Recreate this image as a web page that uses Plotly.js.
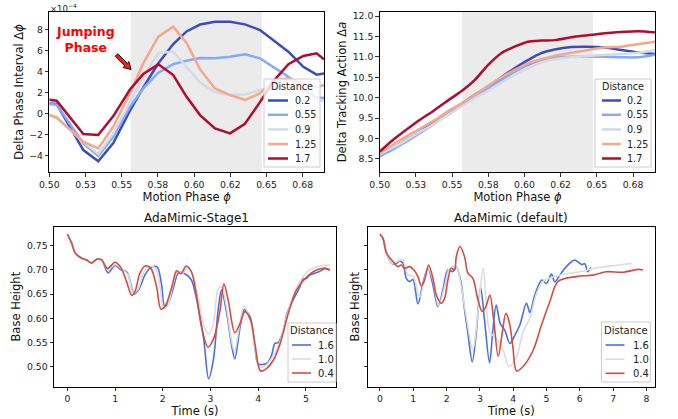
<!DOCTYPE html>
<html>
<head>
<meta charset="utf-8">
<script src="https://cdn.plot.ly/plotly-3.0.1.min.js"></script>
<style>html,body{margin:0;padding:0;background:#fff;}#chart{width:678px;height:419px;}</style>
</head>
<body>
<div id="chart"></div>
<script>
// ---------- Top-left: Delta Phase Interval (x1e-4) ----------
const phaseX = [0.5, 0.5051, 0.5235, 0.5338, 0.5442, 0.5557, 0.5649, 0.5753, 0.5856, 0.5948, 0.6041, 0.6144, 0.6248, 0.6351, 0.6455, 0.6547, 0.6651, 0.6754, 0.6846, 0.6897];
const dphi_02  = [0.98, 0.92, -3.44, -4.5, -2.78, 0.3, 2.5, 4.78, 6.6, 7.8, 8.45, 8.72, 8.72, 8.47, 7.93, 6.98, 5.88, 4.45, 3.7, 3.82];
const dphi_055 = [0.92, 0.85, -2.8, -4.0, -2.18, 0.66, 2.4, 3.89, 4.7, 5.02, 5.27, 5.25, 5.4, 5.63, 5.25, 4.45, 3.5, 2.34, 1.52, 1.52];
const dphi_09  = [-0.15, -0.44, -2.65, -3.82, -1.86, 1.14, 3.5, 5.75, 5.87, 4.45, 2.97, 2.03, 1.77, 1.83, 2.24, 2.4, 2.56, 2.08, 1.14, 1.3];
const dphi_125 = [-0.1, -0.35, -2.65, -3.28, -1.23, 1.93, 4.77, 7.3, 8.25, 6.7, 4.2, 2.4, 1.77, 1.3, 1.93, 3.19, 3.35, 2.87, 2.5, 2.72];
const dphi_17  = [1.33, 1.23, -1.93, -2.02, -0.22, 2.3, 3.76, 4.68, 3.67, 1.6, -0.13, -1.39, -1.86, -0.95, 1.1, 3.07, 4.7, 5.48, 5.72, 5.15];

// ---------- Top-right: Delta Tracking Action ----------
const actX = [0.5, 0.5104, 0.5242, 0.538, 0.5495, 0.5569, 0.5656, 0.5748, 0.584, 0.5932, 0.6024, 0.6116, 0.6209, 0.6324, 0.6439, 0.6554, 0.6669, 0.6784, 0.6904];
const da_02  = [8.57, 8.80, 9.09, 9.41, 9.70, 9.86, 10.07, 10.27, 10.50, 10.72, 10.92, 11.09, 11.18, 11.24, 11.25, 11.23, 11.17, 11.11, 11.07];
const da_055 = [8.57, 8.76, 9.05, 9.37, 9.66, 9.82, 10.03, 10.23, 10.43, 10.64, 10.80, 10.92, 10.98, 11.00, 11.00, 11.00, 10.99, 10.99, 11.05];
const da_09  = [8.62, 8.80, 9.09, 9.37, 9.63, 9.80, 9.99, 10.17, 10.37, 10.56, 10.72, 10.86, 10.94, 10.99, 11.02, 11.05, 11.07, 11.10, 11.17];
const da_125 = [8.64, 8.88, 9.17, 9.45, 9.72, 9.86, 10.07, 10.29, 10.50, 10.68, 10.84, 10.94, 11.02, 11.10, 11.17, 11.23, 11.25, 11.31, 11.37];
const da_17  = [8.68, 9.00, 9.37, 9.70, 9.99, 10.17, 10.43, 10.80, 11.09, 11.25, 11.37, 11.40, 11.41, 11.48, 11.53, 11.58, 11.61, 11.63, 11.60];

const phaseLabels = ['0.2', '0.55', '0.9', '1.25', '1.7'];
const phaseColors = ['#3b4cc0', '#86a9fc', '#d2dbe8', '#f5a787', '#b40a30'];

// ---------- Bottom-left: AdaMimic-Stage1 base height ----------
const s1_t_16 = [0,0.09,0.16,0.3,0.405,0.51,0.615,0.72,0.85,1.0,1.12,1.25,1.4,1.5,1.63,1.75,1.88,1.97,2.04,2.12,2.22,2.33,2.47,2.6,2.74,2.86,2.96,3.06,3.16,3.23,3.34,3.45,3.51,3.62,3.71,3.83,3.93,4.0,4.18,4.28,4.35,4.42,4.53,4.6,4.73,4.87,4.93,5.01,5.08,5.19,5.29,5.4,5.5];
const s1_h_16 = [0.7734,0.755,0.7355,0.724,0.7204,0.714,0.722,0.7204,0.694,0.709,0.700,0.695,0.650,0.66,0.69,0.705,0.706,0.672,0.624,0.632,0.662,0.694,0.6915,0.679,0.624,0.555,0.475,0.514,0.617,0.658,0.610,0.54,0.516,0.582,0.618,0.603,0.541,0.506,0.507,0.524,0.548,0.5496,0.5758,0.609,0.638,0.664,0.68,0.682,0.689,0.693,0.697,0.703,0.6997];
const s1_t_10 = [0,0.09,0.16,0.3,0.405,0.51,0.615,0.72,0.85,1.0,1.15,1.27,1.38,1.48,1.6,1.72,1.85,1.95,2.02,2.1,2.2,2.3,2.42,2.52,2.62,2.75,2.86,2.96,3.06,3.16,3.23,3.34,3.43,3.5,3.6,3.7,3.82,3.93,4.02,4.15,4.3,4.45,4.6,4.75,4.9,5.05,5.2,5.35,5.5];
const s1_h_10 = [0.7734,0.755,0.7355,0.724,0.7204,0.714,0.722,0.7204,0.70,0.711,0.70,0.690,0.652,0.66,0.695,0.707,0.703,0.66,0.62,0.625,0.664,0.695,0.693,0.705,0.69,0.64,0.585,0.567,0.59,0.66,0.665,0.62,0.56,0.531,0.58,0.625,0.60,0.54,0.50,0.502,0.52,0.55,0.605,0.65,0.68,0.698,0.706,0.709,0.709];
const s1_t_04 = [0,0.09,0.16,0.3,0.405,0.51,0.615,0.72,0.84,1.0,1.12,1.24,1.35,1.42,1.52,1.63,1.75,1.87,1.96,2.06,2.19,2.29,2.38,2.49,2.6,2.71,2.81,2.95,3.08,3.2,3.28,3.37,3.51,3.62,3.72,3.84,3.93,4.05,4.18,4.32,4.46,4.63,4.8,5.01,5.22,5.4,5.5];
const s1_h_04 = [0.7734,0.755,0.7355,0.724,0.7204,0.714,0.722,0.7204,0.703,0.7156,0.705,0.6756,0.647,0.656,0.693,0.708,0.703,0.665,0.619,0.627,0.665,0.698,0.692,0.708,0.696,0.6446,0.5826,0.540,0.562,0.617,0.671,0.638,0.570,0.5895,0.6136,0.5965,0.548,0.491,0.4966,0.5138,0.548,0.610,0.658,0.6846,0.6997,0.703,0.6997];

// ---------- Bottom-right: AdaMimic (default) base height ----------
const df_t_16 = [0,0.09,0.19,0.34,0.49,0.59,0.69,0.79,0.89,0.99,1.14,1.29,1.44,1.59,1.74,1.89,2.04,2.19,2.29,2.42,2.54,2.64,2.77,2.89,3.02,3.14,3.29,3.39,3.49,3.61,3.75,3.9,4.05,4.2,4.4,4.5,4.65,4.86,5.0,5.15,5.25,5.4,5.6,5.85,6.06,6.15,6.24,6.33];
const df_h_16 = [0.7734,0.765,0.7355,0.7135,0.7135,0.7183,0.7135,0.6825,0.6756,0.680,0.6295,0.6722,0.703,0.6687,0.624,0.6584,0.6997,0.6963,0.7066,0.679,0.617,0.5689,0.510,0.5689,0.664,0.596,0.5083,0.5758,0.6274,0.5895,0.575,0.548,0.565,0.586,0.631,0.612,0.648,0.679,0.672,0.691,0.675,0.689,0.707,0.720,0.711,0.7125,0.696,0.705];
const df_t_10 = [0,0.09,0.19,0.34,0.49,0.59,0.69,0.84,0.99,1.19,1.44,1.59,1.76,1.94,2.09,2.29,2.44,2.59,2.79,2.94,3.1,3.3,3.5,3.7,3.87,4.1,4.3,4.5,4.7,4.9,5.4,6.0,6.6,7.1,7.56];
const df_h_10 = [0.7734,0.765,0.7355,0.7135,0.716,0.720,0.720,0.6894,0.6873,0.6433,0.703,0.679,0.6253,0.6653,0.703,0.7066,0.6653,0.6033,0.5344,0.610,0.703,0.572,0.558,0.535,0.50,0.521,0.572,0.600,0.651,0.676,0.689,0.696,0.705,0.709,0.7135];
const df_t_04 = [0,0.09,0.19,0.39,0.54,0.64,0.74,0.89,1.02,1.14,1.24,1.34,1.46,1.59,1.69,1.84,1.94,2.04,2.14,2.24,2.29,2.4,2.54,2.64,2.79,2.94,3.07,3.18,3.3,3.42,3.55,3.67,3.78,3.89,3.99,4.1,4.29,4.6,4.85,5.1,5.35,5.9,6.4,6.8,7.3,7.76,7.9];
const df_h_04 = [0.7734,0.765,0.7355,0.717,0.7066,0.71,0.703,0.7066,0.6997,0.686,0.6667,0.679,0.71,0.6825,0.648,0.631,0.641,0.679,0.703,0.6997,0.727,0.748,0.727,0.693,0.6825,0.638,0.614,0.624,0.648,0.593,0.521,0.569,0.610,0.5895,0.5413,0.491,0.5,0.534,0.586,0.634,0.676,0.686,0.689,0.696,0.695,0.701,0.6997];

const bhLabels = ['1.6', '1.0', '0.4'];
const bhColors = ['#4a6fe3', '#dcdcdc', '#d44d3f'];

// ---------- tick labels ----------
const phaseTickVals = [0.5, 0.525, 0.55, 0.575, 0.6, 0.625, 0.65, 0.675];
const phaseTickText = ['0.50', '0.53', '0.55', '0.58', '0.60', '0.62', '0.65', '0.68'];

// ---------- build ----------
const W = 678, H = 419;
const px = v => v / W, py = v => 1 - v / H;
const FONT = 'DejaVu Sans, sans-serif';

const traces = [];
[dphi_02, dphi_055, dphi_09, dphi_125, dphi_17].forEach((ys, i) => traces.push({
  x: phaseX, y: ys, type: 'scatter', mode: 'lines', name: phaseLabels[i], showlegend: false,
  line: {color: phaseColors[i], width: 2.5}, xaxis: 'x', yaxis: 'y'
}));
[da_02, da_055, da_09, da_125, da_17].forEach((ys, i) => traces.push({
  x: actX, y: ys, type: 'scatter', mode: 'lines', name: phaseLabels[i], showlegend: false,
  line: {color: phaseColors[i], width: 2.5, shape: 'spline', smoothing: 0.8}, xaxis: 'x2', yaxis: 'y2'
}));
[[s1_t_16, s1_h_16], [s1_t_10, s1_h_10], [s1_t_04, s1_h_04]].forEach((s, i) => traces.push({
  x: s[0], y: s[1], type: 'scatter', mode: 'lines', name: bhLabels[i], showlegend: false,
  line: {color: bhColors[i], width: 1.6, shape: 'spline', smoothing: 0.9}, xaxis: 'x3', yaxis: 'y3'
}));
[[df_t_16, df_h_16], [df_t_10, df_h_10], [df_t_04, df_h_04]].forEach((s, i) => traces.push({
  x: s[0], y: s[1], type: 'scatter', mode: 'lines', name: bhLabels[i], showlegend: false,
  line: {color: bhColors[i], width: 1.6, shape: 'spline', smoothing: 0.9}, xaxis: 'x4', yaxis: 'y4'
}));

const axBase = {
  showline: true, linecolor: '#000', linewidth: 1, mirror: true,
  ticks: 'outside', ticklen: 3.5, tickwidth: 0.8, tickcolor: '#000',
  showgrid: false, zeroline: false, automargin: false,
  tickfont: {family: FONT, size: 9.3, color: '#222'}
};
const ttl = (t, s) => ({text: t, font: {family: FONT, size: 11.5, color: '#111'}, standoff: s});

// fancy arrow (red with black edge) pointing at the start of the jumping phase
function arrowPath(tx, ty, hx, hy, shaftHalf, headHalf, headLen) {
  const L = Math.hypot(hx - tx, hy - ty), dx = (hx - tx) / L, dy = (hy - ty) / L, nx = -dy, ny = dx;
  const bx = hx - headLen * dx, by = hy - headLen * dy;
  const pts = [
    [tx - shaftHalf * nx, ty - shaftHalf * ny], [bx - shaftHalf * nx, by - shaftHalf * ny],
    [bx - headHalf * nx, by - headHalf * ny], [hx, hy],
    [bx + headHalf * nx, by + headHalf * ny], [bx + shaftHalf * nx, by + shaftHalf * ny],
    [tx + shaftHalf * nx, ty + shaftHalf * ny]
  ];
  return 'M ' + pts.map(p => px(p[0]).toFixed(5) + ' ' + py(p[1]).toFixed(5)).join(' L ') + ' Z';
}

const shapes = [
  {type: 'rect', xref: 'x', yref: 'y domain', x0: 0.5562, x1: 0.6467, y0: 0, y1: 1, fillcolor: '#ebebeb', line: {width: 0}, layer: 'below'},
  {type: 'rect', xref: 'x2', yref: 'y2 domain', x0: 0.5569, x1: 0.6473, y0: 0, y1: 1, fillcolor: '#ebebeb', line: {width: 0}, layer: 'below'},
  {type: 'path', xref: 'paper', yref: 'paper', path: arrowPath(116.5, 55, 131, 69.5, 1.8, 4.2, 7), fillcolor: '#ff1a1a', line: {color: '#000', width: 0.9}, layer: 'above'}
];
const annotations = [
  {text: '×10<sup>−4</sup>', xref: 'paper', yref: 'paper', x: px(48), y: py(0), xanchor: 'left', yanchor: 'top', showarrow: false, font: {family: FONT, size: 8.5, color: '#222'}},
  {text: '<b>Jumping<br>Phase</b>', xref: 'paper', yref: 'paper', x: px(85), y: py(40), xanchor: 'center', yanchor: 'middle', showarrow: false, font: {family: FONT, size: 12.5, color: '#ff0000'}},
  {text: 'AdaMimic-Stage1', xref: 'paper', yref: 'paper', x: px(196), y: py(218), xanchor: 'center', yanchor: 'middle', showarrow: false, font: {family: FONT, size: 12, color: '#111'}},
  {text: 'AdaMimic (default)', xref: 'paper', yref: 'paper', x: px(511), y: py(218), xanchor: 'center', yanchor: 'middle', showarrow: false, font: {family: FONT, size: 12, color: '#111'}}
];

// legend box helper (matplotlib-style legend drawn from labels/colours)
function addLegend(left, top, width, height, titleY, rowYs, lineX0, lineX1, textX, labels, colors, lw, fs) {
  shapes.push({type: 'rect', xref: 'paper', yref: 'paper', x0: px(left), x1: px(left + width), y0: py(top + height), y1: py(top),
    fillcolor: 'rgba(255,255,255,0.82)', line: {color: '#cccccc', width: 1}, layer: 'above'});
  annotations.push({text: 'Distance', xref: 'paper', yref: 'paper', x: px(left + width / 2), y: py(titleY), xanchor: 'center', yanchor: 'middle', showarrow: false, font: {family: FONT, size: fs, color: '#222'}});
  labels.forEach((lab, i) => {
    shapes.push({type: 'line', xref: 'paper', yref: 'paper', x0: px(left + lineX0), x1: px(left + lineX1), y0: py(rowYs[i]), y1: py(rowYs[i]),
      line: {color: colors[i], width: lw}, layer: 'above'});
    annotations.push({text: lab, xref: 'paper', yref: 'paper', x: px(left + textX), y: py(rowYs[i]), xanchor: 'left', yanchor: 'middle', showarrow: false, font: {family: FONT, size: fs, color: '#222'}});
  });
}
addLegend(264, 79, 56, 88, 87, [100.5, 114.8, 129.5, 144, 158.5], 4, 24, 29, phaseLabels, phaseColors, 2.5, 9.6);
addLegend(595, 79, 56, 88, 87, [100.5, 114.8, 129.5, 144, 158.5], 7, 26, 30, phaseLabels, phaseColors, 2.5, 9.6);
addLegend(288, 323, 48, 59, 330, [345, 359, 373], 4, 23, 28, bhLabels, bhColors, 1.6, 10);
addLegend(601.5, 322, 49, 60, 330, [345, 359.2, 373.3], 4, 23, 29, bhLabels, bhColors, 1.6, 10);

const layout = {
  width: W, height: H, autosize: false, showlegend: false,
  margin: {l: 0, r: 0, t: 0, b: 0, pad: 0},
  paper_bgcolor: '#fff', plot_bgcolor: '#fff',
  font: {family: FONT},
  xaxis: Object.assign({}, axBase, {domain: [px(49.3), px(324)], range: [0.5, 0.6897], tickvals: phaseTickVals, ticktext: phaseTickText, title: ttl('Motion Phase <i>ϕ</i>', 3), anchor: 'y'}),
  yaxis: Object.assign({}, axBase, {domain: [py(172), py(12)], range: [-5.52, 9.64], tickvals: [-4, -2, 0, 2, 4, 6, 8], title: ttl('Delta Phase Interval Δ<i>ϕ</i>', 3), anchor: 'x'}),
  xaxis2: Object.assign({}, axBase, {domain: [px(379.7), px(655.3)], range: [0.5, 0.6904], tickvals: phaseTickVals, ticktext: phaseTickText, title: ttl('Motion Phase <i>ϕ</i>', 3), anchor: 'y2'}),
  yaxis2: Object.assign({}, axBase, {domain: [py(172.3), py(11.7)], range: [8.174, 12.106], tickvals: [8.5, 9, 9.5, 10, 10.5, 11, 11.5, 12], tickformat: '.1f', title: ttl('Delta Tracking Action Δ<i>a</i>', 3), anchor: 'x2'}),
  xaxis3: Object.assign({}, axBase, {domain: [px(54), px(336)], range: [-0.28, 5.63], tickvals: [0, 1, 2, 3, 4, 5], title: ttl('Time (s)', 3), anchor: 'y3'}),
  yaxis3: Object.assign({}, axBase, {domain: [py(386.7), py(226.7)], range: [0.4587, 0.789], tickvals: [0.5, 0.55, 0.6, 0.65, 0.7, 0.75], tickformat: '.2f', title: ttl('Base Height', 3), anchor: 'x3'}),
  xaxis4: Object.assign({}, axBase, {domain: [px(368), px(654.7)], range: [-0.36, 8.25], tickvals: [0, 1, 2, 3, 4, 5, 6, 7, 8], title: ttl('Time (s)', 3), anchor: 'y4'}),
  yaxis4: Object.assign({}, axBase, {domain: [py(386.7), py(226.7)], range: [0.4587, 0.789], tickvals: [0.5, 0.55, 0.6, 0.65, 0.7, 0.75], showticklabels: false, title: ttl('Base Height', 1), anchor: 'x4'}),
  shapes: shapes,
  annotations: annotations
};

Plotly.newPlot('chart', traces, layout, {staticPlot: true, displayModeBar: false});
</script>
</body>
</html>
